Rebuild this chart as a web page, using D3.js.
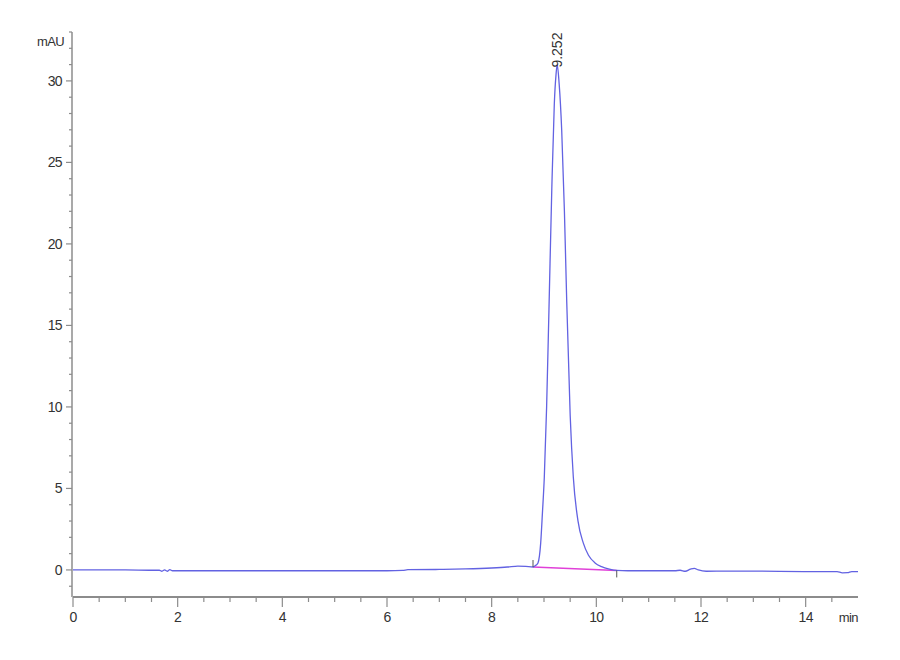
<!DOCTYPE html>
<html>

<head>
	<meta charset="utf-8">
	<title>Chromatogram 9.252</title>
	<style>
		body {
			margin: 0;
			background-color: #fff;
		}

		svg text {
			font-family: "Liberation Sans Narrow", "Arial Narrow", "Liberation Sans", sans-serif;
			fill: #333;
		}
	</style>
</head>

<body>
	<svg id="chart" width="900" height="660"></svg>

	<script src="https://cdn.jsdelivr.net/npm/d3@7/dist/d3.min.js"></script>
	<script>
		// retention time (min) and signal (mAU)
		var times = [0, 0.5, 1.0, 1.5, 1.65, 1.7, 1.75, 1.8, 1.85, 1.9, 2.0, 2.5, 3, 4, 5, 6, 6.3, 6.4, 7, 7.5, 8, 8.3, 8.5,
			8.65, 8.79, 8.85, 8.885, 8.937, 8.97, 9.006, 9.05, 9.095, 9.15, 9.197, 9.23, 9.252, 9.29, 9.338, 9.39, 9.434,
			9.5, 9.56, 9.65, 9.75, 9.85, 9.975, 10.1, 10.25, 10.39, 10.6, 11, 11.5, 11.6, 11.7, 11.8, 11.87, 11.95, 12.1,
			12.5, 13, 14, 14.6, 14.7, 14.8, 14.88, 15];
		var signal = [0, 0, 0, -0.02, -0.02, -0.08, 0, -0.08, 0.02, -0.05, -0.05, -0.05, -0.05, -0.05, -0.05, -0.05, -0.03, 0.02,
			0.03, 0.06, 0.12, 0.18, 0.24, 0.22, 0.18, 0.3, 0.43, 1.66, 3.5, 5.7, 10.0, 16.0, 23.5, 28.6, 30.4, 31.0, 29.8,
			27.0, 22.0, 16.5, 9.5, 5.7, 3.0, 1.66, 0.9, 0.43, 0.2, 0.05, -0.03, -0.05, -0.05, -0.05, -0.02, -0.08, 0.05,
			0.1, 0, -0.08, -0.07, -0.07, -0.1, -0.1, -0.18, -0.17, -0.1, -0.1];

		// integration baseline (start / end of peak)
		var baseTimes = [8.79, 10.39];
		var baseValues = [0.18, -0.03];

		var peakLabel = "9.252";
		var peakTime = 9.252;
		var peakHeight = 31.0;

		var xTickLabels = [0, 2, 4, 6, 8, 10, 12, 14];
		var yTickLabels = [0, 5, 10, 15, 20, 25, 30];

		var svg = d3.select('#chart');

		var x = d3.scaleLinear().domain([0, 15]).range([73, 858]);
		var y = d3.scaleLinear().domain([-1.66, 33]).range([597, 32]);

		var axisColor = "#8c8c8c";

		// y axis: minor every 1, major every 5
		var yAxis = svg.append("g").attr("transform", "translate(72,0)");
		yAxis.append("line")
			.attr("x1", 0).attr("x2", 0)
			.attr("y1", y(33)).attr("y2", 597)
			.style("stroke", axisColor)
			.style("stroke-width", 1.5);
		yAxis.selectAll(".minor")
			.data(d3.range(-1, 34))
			.enter()
			.append("line")
			.attr("class", "minor")
			.attr("x1", function (d) { return d % 5 === 0 ? -6 : -3; })
			.attr("x2", 0)
			.attr("y1", function (d) { return y(d); })
			.attr("y2", function (d) { return y(d); })
			.style("stroke", axisColor)
			.style("stroke-width", 1.2);
		yAxis.selectAll(".ylab")
			.data(yTickLabels)
			.enter()
			.append("text")
			.attr("class", "ylab")
			.attr("x", -10)
			.attr("y", function (d) { return y(d); })
			.attr("dy", "0.36em")
			.attr("text-anchor", "end")
			.attr("font-size", 14)
			.attr("letter-spacing", "-0.6px")
			.text(function (d) { return d; });
		yAxis.append("text")
			.attr("x", -8)
			.attr("y", 46)
			.attr("text-anchor", "end")
			.attr("font-size", 13)
			.attr("letter-spacing", "-0.6px")
			.text("mAU");

		// x axis: minor every 0.5, major every 2
		var xAxis = svg.append("g").attr("transform", "translate(0,597)");
		xAxis.append("line")
			.attr("x1", x(0)).attr("x2", x(15))
			.attr("y1", 0).attr("y2", 0)
			.style("stroke", axisColor)
			.style("stroke-width", 2);
		xAxis.selectAll(".xt")
			.data(d3.range(0, 30).map(function (i) { return i * 0.5; }))
			.enter()
			.append("line")
			.attr("class", "xt")
			.attr("x1", function (d) { return x(d); })
			.attr("x2", function (d) { return x(d); })
			.attr("y1", 0)
			.attr("y2", function (d) { return d % 2 === 0 ? 10 : 5; })
			.style("stroke", axisColor)
			.style("stroke-width", 1.2);
		xAxis.selectAll(".xlab")
			.data(xTickLabels)
			.enter()
			.append("text")
			.attr("class", "xlab")
			.attr("x", function (d) { return x(d); })
			.attr("y", 25)
			.attr("text-anchor", "middle")
			.attr("font-size", 14)
			.attr("letter-spacing", "-0.6px")
			.text(function (d) { return d; });
		xAxis.append("text")
			.attr("x", x(15))
			.attr("y", 25)
			.attr("text-anchor", "end")
			.attr("font-size", 13)
			.attr("letter-spacing", "-0.6px")
			.text("min");

		// integration baseline
		svg.append("line")
			.attr("x1", x(baseTimes[0])).attr("y1", y(baseValues[0]))
			.attr("x2", x(baseTimes[1])).attr("y2", y(baseValues[1]))
			.style("stroke", "#e040d8")
			.style("stroke-width", 1.5);

		// chromatogram trace
		var points = times.map(function (t, i) { return [t, signal[i]]; });
		var line = d3.line()
			.x(function (d) { return x(d[0]); })
			.y(function (d) { return y(d[1]); })
			.curve(d3.curveMonotoneX);
		svg.append("path")
			.datum(points)
			.attr("d", line)
			.style("fill", "none")
			.style("stroke", "#6262e2")
			.style("stroke-width", 1.3);

		// peak start / end markers
		svg.append("line")
			.attr("x1", x(baseTimes[0])).attr("x2", x(baseTimes[0]))
			.attr("y1", y(baseValues[0]) - 7).attr("y2", y(baseValues[0]))
			.style("stroke", "#555")
			.style("stroke-width", 1);
		svg.append("line")
			.attr("x1", x(baseTimes[1])).attr("x2", x(baseTimes[1]))
			.attr("y1", y(baseValues[1])).attr("y2", y(baseValues[1]) + 7)
			.style("stroke", "#555")
			.style("stroke-width", 1);

		// retention time label
		svg.append("text")
			.attr("transform", "translate(" + (x(peakTime) + 5) + "," + (y(peakHeight) + 3) + ") rotate(-90)")
			.attr("font-size", 14)
			.attr("font-family", "Liberation Sans, sans-serif")
			.text(peakLabel);
	</script>
</body>

</html>
